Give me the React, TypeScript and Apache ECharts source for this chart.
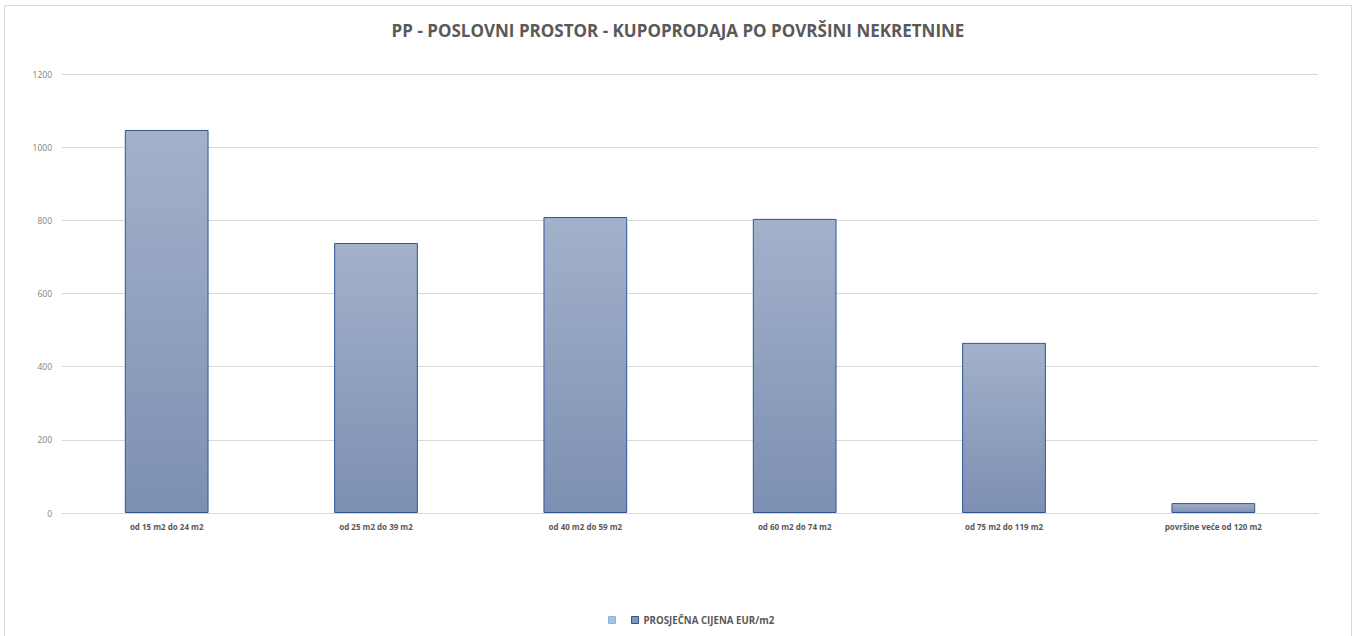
import React, { useEffect, useRef } from "react";
import * as echarts from "echarts";

const categories = [
  "od 15 m2 do 24 m2",
  "od 25 m2 do 39 m2",
  "od 40 m2 do 59 m2",
  "od 60 m2 do 74 m2",
  "od 75 m2 do 119 m2",
  "površine veće od 120 m2",
];
const prices = [1047, 738, 809, 804, 465, 27];
const emptySeries = [null, null, null, null, null, null];
const seriesName = "PROSJEČNA CIJENA EUR/m2";
const yTicks = { min: 0, max: 1200, interval: 200 };

const FONT = "'Open Sans', 'Noto Sans', sans-serif";

export default function App() {
  const ref = useRef<HTMLDivElement>(null);
  useEffect(() => {
    document.body.style.margin = "0";
    const chart = echarts.init(ref.current!, null, { renderer: "svg" });
    chart.setOption({
      animation: false,
      title: {
        text: "PP - POSLOVNI PROSTOR - KUPOPRODAJA PO POVRŠINI NEKRETNINE",
        left: "center",
        top: 11,
        textStyle: { fontFamily: FONT, fontSize: 17, fontWeight: "bold", color: "#595959" },
      },
      legend: {
        left: 598,
        top: 604,
        itemWidth: 7,
        itemHeight: 7,
        itemGap: 8,
        textStyle: { fontFamily: FONT, fontSize: 9.7, fontWeight: "bold", color: "#595959" },
        data: [
          { name: " ", icon: "rect", itemStyle: { color: "#9dc3e6", borderColor: "#8db4dc", borderWidth: 1 } },
          { name: seriesName, icon: "rect", itemStyle: { color: "#8497b9", borderColor: "#2f5597", borderWidth: 1 } },
        ],
      },
      grid: { left: 57, right: 33, top: 68, bottom: 124 },
      xAxis: {
        type: "category",
        data: categories,
        axisLine: { lineStyle: { color: "#d9d9d9" } },
        axisTick: { show: false },
        axisLabel: { fontFamily: FONT, fontSize: 8, fontWeight: "bold", color: "#595959", margin: 9 },
      },
      yAxis: {
        type: "value",
        min: yTicks.min,
        max: yTicks.max,
        interval: yTicks.interval,
        axisLine: { show: false },
        axisTick: { show: false },
        splitLine: { lineStyle: { color: "#d9d9d9" } },
        axisLabel: {
          fontFamily: FONT,
          fontSize: 8.5,
          color: "#7f7f7f",
          margin: 10,
          formatter: (v: number) => String(v),
        },
      },
      series: [
        {
          name: " ",
          type: "bar",
          stack: "a",
          data: emptySeries,
          itemStyle: { color: "#9dc3e6" },
        },
        {
          name: seriesName,
          type: "bar",
          stack: "a",
          data: prices,
          barWidth: "40%",
          itemStyle: {
            color: new echarts.graphic.LinearGradient(0, 0, 0, 1, [
              { offset: 0, color: "#a3b1ca" },
              { offset: 1, color: "#7c90b3" },
            ]),
            borderColor: "#2f5597",
            borderWidth: 1,
          },
        },
      ],
    });
    return () => chart.dispose();
  }, []);
  return (
    <div
      style={{
        position: "absolute",
        left: 4,
        top: 5,
        width: 1346,
        height: 631,
        border: "1px solid #d9d9d9",
      }}
    >
      <div ref={ref} style={{ width: 1346, height: 631 }} />
    </div>
  );
}
